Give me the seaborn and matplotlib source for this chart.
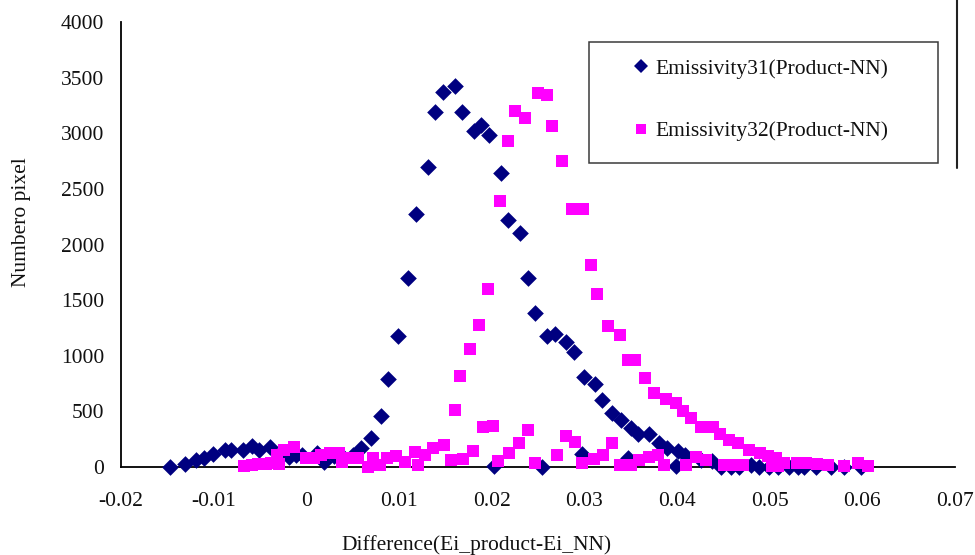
import matplotlib
matplotlib.use("Agg")
import matplotlib.pyplot as plt
from matplotlib.lines import Line2D
from matplotlib.patches import Rectangle
import seaborn as sns
import numpy as np

# Emissivity band 31: difference between product and NN retrieval vs pixel count
e31_diff = [-0.0147, -0.0131, -0.0119, -0.0110, -0.0101, -0.0088, -0.0081, -0.0068,
            -0.0059, -0.0051, -0.0039, -0.0019, -0.0011, -0.0005, 0.0011, 0.0019,
            0.0030, 0.0040, 0.0050, 0.0059, 0.0070, 0.0081, 0.0088, 0.0099,
            0.0110, 0.0118, 0.0131, 0.0139, 0.0148, 0.0160, 0.0168, 0.0181,
            0.0189, 0.0197, 0.0203, 0.0210, 0.0218, 0.0231, 0.0239, 0.0247,
            0.0254, 0.0260, 0.0268, 0.0280, 0.0289, 0.0297, 0.0300, 0.0311,
            0.0319, 0.0330, 0.0340, 0.0347, 0.0350, 0.0358, 0.0370, 0.0381,
            0.0389, 0.0399, 0.0401, 0.0409, 0.0426, 0.0438, 0.0448, 0.0458,
            0.0467, 0.0480, 0.0489, 0.0499, 0.0509, 0.0521, 0.0531, 0.0537,
            0.0550, 0.0566, 0.0580, 0.0599]
e31_count = [0, 27, 63, 81, 117, 153, 153, 153,
             189, 153, 180, 90, 108, 108, 126, 45,
             100, 90, 110, 171, 261, 458, 791, 1178,
             1699, 2274, 2697, 3191, 3371, 3425, 3191, 3021,
             3075, 2985, 9, 2643, 2220, 2104, 1699, 1384,
             0, 1178, 1196, 1124, 1034, 117, 809, 746,
             602, 485, 423, 81, 351, 297, 297, 216,
             171, 9, 144, 108, 63, 54, 0, 0,
             0, 18, 0, 0, 0, 0, 0, 0,
             0, 0, 0, 0]

# Emissivity band 32: difference between product and NN retrieval vs pixel count
e32_diff = [-0.0067, -0.0059, -0.0052, -0.0044, -0.0038, -0.0032, -0.0030, -0.0024,
            -0.0013, 0.0000, 0.0008, 0.0016, 0.0025, 0.0035, 0.0038, 0.0046,
            0.0056, 0.0067, 0.0072, 0.0079, 0.0087, 0.0097, 0.0106, 0.0117,
            0.0121, 0.0128, 0.0137, 0.0149, 0.0156, 0.0160, 0.0166, 0.0169,
            0.0177, 0.0180, 0.0186, 0.0191, 0.0196, 0.0201, 0.0207, 0.0209,
            0.0218, 0.0219, 0.0225, 0.0230, 0.0236, 0.0239, 0.0247, 0.0250,
            0.0260, 0.0265, 0.0270, 0.0276, 0.0280, 0.0287, 0.0290, 0.0297,
            0.0299, 0.0307, 0.0310, 0.0314, 0.0320, 0.0325, 0.0330, 0.0338,
            0.0339, 0.0347, 0.0350, 0.0355, 0.0359, 0.0366, 0.0370, 0.0375,
            0.0379, 0.0386, 0.0388, 0.0399, 0.0406, 0.0410, 0.0415, 0.0421,
            0.0426, 0.0431, 0.0439, 0.0446, 0.0451, 0.0456, 0.0462, 0.0466,
            0.0471, 0.0478, 0.0490, 0.0498, 0.0502, 0.0507, 0.0509, 0.0516,
            0.0529, 0.0539, 0.0551, 0.0563, 0.0580, 0.0595, 0.0606]
e32_count = [9, 18, 27, 27, 36, 108, 27, 153,
             180, 81, 81, 108, 126, 126, 45, 81,
             81, 0, 81, 18, 81, 99, 45, 135,
             18, 108, 171, 198, 63, 512, 818, 72,
             1061, 144, 1277, 360, 1600, 369, 54, 2391,
             2931, 126, 3200, 216, 3138, 333, 36, 3362,
             3344, 3066, 108, 2751, 279, 2319, 225, 36,
             2319, 1816, 72, 1555, 108, 1268, 216, 18,
             1187, 962, 18, 962, 63, 800, 90, 665,
             108, 18, 611, 575, 503, 18, 440, 90,
             360, 63, 360, 297, 18, 243, 18, 216,
             18, 153, 126, 99, 9, 81, 9, 36,
             36, 36, 27, 18, 9, 36, 9]

label31 = "Emissivity31(Product-NN)"
label32 = "Emissivity32(Product-NN)"
x_ticks = [-0.02, -0.01, 0, 0.01, 0.02, 0.03, 0.04, 0.05, 0.06, 0.07]
x_tick_labels = ["-0.02", "-0.01", "0", "0.01", "0.02", "0.03", "0.04", "0.05", "0.06", "0.07"]
y_ticks = [0, 500, 1000, 1500, 2000, 2500, 3000, 3500, 4000]

NAVY = "#000080"
MAGENTA = "#FF00FF"
FS = 15.5

sns.set_theme(style="white")
plt.rcParams["font.family"] = ["Liberation Serif", "DejaVu Serif"]
plt.rcParams["font.size"] = FS

W, H = 975, 555
fig = plt.figure(figsize=(W / 100, H / 100), dpi=100)
ax = fig.add_axes([121 / W, 1 - 467 / H, (955 - 121) / W, (467 - 22) / H])

sns.scatterplot(x=e31_diff, y=e31_count, marker="D", color=NAVY, s=72,
                linewidth=0, clip_on=False, zorder=3, ax=ax)
sns.scatterplot(x=e32_diff, y=e32_count, marker="s", color=MAGENTA, s=78,
                linewidth=0, clip_on=False, zorder=4, ax=ax)

ax.set_xlim(-0.02, 0.07)
ax.set_ylim(0, 4000)
ax.set_xticks(x_ticks)
ax.set_xticklabels(x_tick_labels)
ax.set_yticks(y_ticks)

for side in ("top", "right"):
    ax.spines[side].set_visible(False)
for side in ("left", "bottom"):
    ax.spines[side].set_color("black")
    ax.spines[side].set_linewidth(1.3)

ax.tick_params(axis="both", direction="in", length=4, width=1, color="black",
               labelsize=FS, labelcolor="#111111")
ax.tick_params(axis="x", pad=18)
ax.tick_params(axis="y", pad=12)

ax.set_xlabel("Difference(Ei_product-Ei_NN)", fontsize=FS, color="#111111", va="center")
ax.xaxis.set_label_coords(477 / W, 1 - 545 / H, transform=fig.transFigure)
ax.set_ylabel("Numbero pixel", fontsize=FS, color="#111111", va="center")
ax.yaxis.set_label_coords(22 / W, 1 - 222 / H, transform=fig.transFigure)

# Legend with its own box
handles = [
    Line2D([], [], linestyle="none", marker="D", markersize=7.5,
           markerfacecolor=NAVY, markeredgewidth=0, label=label31),
    Line2D([], [], linestyle="none", marker="s", markersize=7.5,
           markerfacecolor=MAGENTA, markeredgewidth=0, label=label32),
]
ax.legend(handles=handles, loc="center left",
          bbox_to_anchor=(635 / W, 1 - 100 / H), bbox_transform=fig.transFigure,
          frameon=False, borderpad=0, borderaxespad=0, handlelength=0.6,
          handletextpad=0.35, labelspacing=1.95, fontsize=FS,
          labelcolor="#111111")
fig.patches.append(Rectangle((589 / W, 1 - 163 / H), (938 - 589) / W, (163 - 42) / H,
                             transform=fig.transFigure, fill=False,
                             edgecolor="#3a3a3a", linewidth=1.1))
fig.lines.append(Line2D([957 / W, 957 / W], [1.0, 1 - 168 / H],
                        transform=fig.transFigure, color="#222222", linewidth=1.5))

fig.savefig("out.png", dpi=100, facecolor="white")
